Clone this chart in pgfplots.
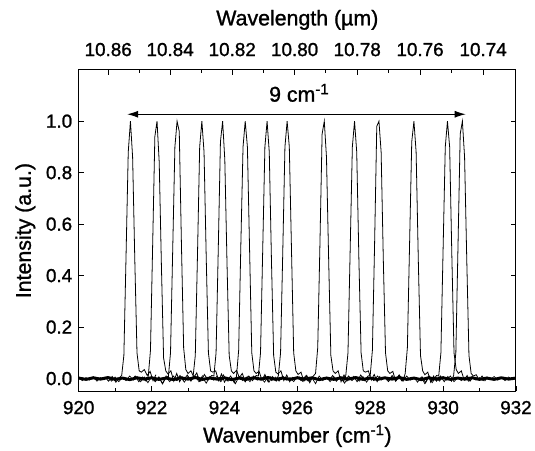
\documentclass[border=0pt]{standalone}
\usepackage{pgfplots}
\pgfplotsset{compat=1.18}
\usepackage{fontspec}
\setmainfont{Liberation Sans}[FakeBold=1.2]
\usetikzlibrary{arrows.meta}
\newcommand{\tickfont}{\fontsize{19}{20}\selectfont}
\newcommand{\labfont}{\fontsize{21.5}{23}\selectfont}
\begin{document}
\begin{tikzpicture}
\pgfplotsset{
  common/.style={
    scale only axis, width=439bp, height=323bp,
    xmin=920, xmax=932, ymin=-0.05, ymax=1.2,
    axis line style={line width=1pt},
    every tick/.style={black, line width=0.9pt},
    major tick length=5bp, minor tick length=3bp,
    tick align=inside,
    tick label style={font=\tickfont},
    label style={font=\labfont},
    /pgf/number format/assume math mode=true,
  },
  pk/.style={black, solid, no marks, line width=0.8pt},
}
\begin{axis}[common,
  name=main,
  xtick={920,922,...,932},
  minor xtick={921,923,...,931},
  xtick pos=lower,
  ytick={0,0.2,...,1.0},
  ytick pos=both,
  yticklabel style={xshift=-3bp, /pgf/number format/.cd, fixed, fixed zerofill, precision=1},
  xticklabel style={yshift=-6bp, /pgf/number format/.cd, fixed, precision=0, 1000 sep={}},
  xlabel={Wavenumber (cm\textsuperscript{-1})},
  ylabel={Intensity (a.u.)},
  xlabel style={at={(axis description cs:0.5,-0.138)}, anchor=center},
  ylabel style={at={(axis description cs:-0.122,0.5)}, anchor=center},
  clip=true,
]
% baseline (thick band)
\addplot[pk, line width=3pt] coordinates {
(920.0,0.002)(920.2,-0.003)(920.4,0.003)(920.6,-0.002)(920.8,0.004)(921.0,-0.003)(921.2,0.002)(921.4,-0.004)(921.6,0.003)(921.8,-0.002)
(922.0,0.003)(922.2,-0.003)(922.4,0.002)(922.6,-0.004)(922.8,0.003)(923.0,-0.002)(923.2,0.004)(923.4,-0.003)(923.6,0.002)(923.8,-0.002)
(924.0,0.003)(924.2,-0.004)(924.4,0.002)(924.6,-0.003)(924.8,0.003)(925.0,-0.002)(925.2,0.004)(925.4,-0.003)(925.6,0.002)(925.8,-0.003)
(926.0,0.003)(926.2,-0.002)(926.4,0.003)(926.6,-0.004)(926.8,0.002)(927.0,-0.003)(927.2,0.003)(927.4,-0.002)(927.6,0.004)(927.8,-0.003)
(928.0,0.002)(928.2,-0.003)(928.4,0.003)(928.6,-0.002)(928.8,0.004)(929.0,-0.003)(929.2,0.002)(929.4,-0.004)(929.6,0.003)(929.8,-0.002)
(930.0,0.003)(930.2,-0.003)(930.4,0.002)(930.6,-0.002)(930.8,0.003)(931.0,-0.003)(931.2,0.002)(931.4,-0.003)(931.6,0.003)(931.8,-0.002)(932.0,0.002)
};
% baseline noise
\addplot[pk, line width=0.7pt] coordinates {
(920.0,0.006)(920.1,-0.008)(920.2,0.004)(920.3,-0.006)(920.4,0.008)(920.5,-0.01)(920.6,0.004)(920.7,-0.004)(920.8,0.008)(920.9,-0.01)
(921.0,0.006)(921.1,-0.012)(921.2,0.004)(921.3,-0.008)(921.4,0.01)(921.5,-0.006)(921.6,0.008)(921.7,-0.012)(921.8,0.006)(921.9,-0.016)
(922.0,0.008)(922.1,-0.01)(922.2,0.006)(922.3,-0.02)(922.4,0.004)(922.5,-0.012)(922.6,0.01)(922.7,-0.008)(922.8,0.006)(922.9,-0.014)
(923.0,0.008)(923.1,-0.006)(923.2,0.01)(923.3,-0.012)(923.4,0.004)(923.5,-0.018)(923.6,0.008)(923.7,-0.006)(923.8,0.01)(923.9,-0.012)
(924.0,0.006)(924.1,-0.01)(924.2,0.004)(924.3,-0.02)(924.4,0.008)(924.5,-0.008)(924.6,0.006)(924.7,-0.012)(924.8,0.01)(924.9,-0.006)
(925.0,0.004)(925.1,-0.014)(925.2,0.008)(925.3,-0.008)(925.4,0.006)(925.5,-0.01)(925.6,0.01)(925.7,-0.006)(925.8,0.004)(925.9,-0.012)
(926.0,0.008)(926.1,-0.008)(926.2,0.006)(926.3,-0.01)(926.4,0.004)(926.5,-0.02)(926.6,0.01)(926.7,-0.008)(926.8,0.006)(926.9,-0.012)
(927.0,0.008)(927.1,-0.006)(927.2,0.004)(927.3,-0.018)(927.4,0.01)(927.5,-0.008)(927.6,0.006)(927.7,-0.01)(927.8,0.008)(927.9,-0.014)
(928.0,0.006)(928.1,-0.008)(928.2,0.01)(928.3,-0.006)(928.4,0.004)(928.5,-0.012)(928.6,0.008)(928.7,-0.01)(928.8,0.006)(928.9,-0.008)
(929.0,0.01)(929.1,-0.006)(929.2,0.004)(929.3,-0.014)(929.4,0.006)(929.5,-0.02)(929.6,0.008)(929.7,-0.016)(929.8,0.006)(929.9,-0.01)
(930.0,0.008)(930.1,-0.006)(930.2,0.01)(930.3,-0.012)(930.4,0.004)(930.5,-0.008)(930.6,0.006)(930.7,-0.01)(930.8,0.008)(930.9,-0.006)
(931.0,0.004)(931.1,-0.008)(931.2,0.006)(931.3,-0.004)(931.4,0.008)(931.5,-0.006)(931.6,0.004)(931.7,-0.008)(931.8,0.006)(931.9,-0.004)(932.0,0.004)
};
% peak 1
\addplot[pk] coordinates {(920.72,0.006)(920.82,-0.01)(920.92,0.008)(921.02,-0.014)(921.12,0.004)(921.18,0.012)(921.24,0.09)(921.30,0.48)(921.36,0.88)(921.42,1.0)(921.48,0.86)(921.54,0.46)(921.60,0.10)(921.66,0.03)(921.72,0.025)(921.80,0.035)(921.88,0.012)(921.96,0.028)(922.04,-0.008)(922.12,0.015)};
% peak 2
\addplot[pk] coordinates {(921.45,-0.006)(921.55,0.01)(921.65,-0.012)(921.75,0.006)(921.85,-0.01)(921.91,0.01)(921.97,0.11)(922.03,0.52)(922.09,0.94)(922.15,1.0)(922.21,0.84)(922.27,0.44)(922.33,0.08)(922.39,0.03)(922.45,0.018)(922.53,0.03)(922.61,-0.01)(922.69,0.02)(922.77,-0.012)(922.85,0.008)};
% peak 3
\addplot[pk] coordinates {(922.00,0.008)(922.10,-0.012)(922.20,0.006)(922.30,-0.02)(922.40,0.01)(922.46,0.006)(922.52,0.10)(922.58,0.50)(922.64,0.90)(922.70,1.0)(922.76,0.96)(922.82,0.52)(922.88,0.12)(922.94,0.035)(923.00,0.02)(923.08,0.03)(923.16,0.006)(923.24,0.022)(923.32,-0.01)(923.40,0.012)};
% peak 4
\addplot[pk] coordinates {(922.68,-0.008)(922.78,0.012)(922.88,-0.006)(922.98,0.014)(923.08,-0.01)(923.14,0.008)(923.20,0.09)(923.26,0.48)(923.32,0.90)(923.38,1.0)(923.44,0.88)(923.50,0.47)(923.56,0.10)(923.62,0.03)(923.68,0.025)(923.76,0.03)(923.84,-0.008)(923.92,0.018)(924.00,-0.014)(924.08,0.006)};
% peak 5
\addplot[pk] coordinates {(923.25,0.01)(923.35,-0.01)(923.45,0.016)(923.55,-0.006)(923.65,0.012)(923.71,0.01)(923.77,0.10)(923.83,0.50)(923.89,0.92)(923.95,1.0)(924.01,0.85)(924.07,0.45)(924.13,0.09)(924.19,0.03)(924.25,0.02)(924.33,0.032)(924.41,0.004)(924.49,0.02)(924.57,-0.012)(924.65,0.01)};
% peak 6
\addplot[pk] coordinates {(923.87,-0.01)(923.97,0.014)(924.07,-0.008)(924.17,0.01)(924.27,-0.016)(924.33,0.008)(924.39,0.11)(924.45,0.52)(924.51,0.90)(924.57,1.0)(924.63,0.90)(924.69,0.50)(924.75,0.10)(924.81,0.03)(924.87,0.02)(924.95,0.028)(925.03,-0.006)(925.11,0.016)(925.19,-0.01)(925.27,0.008)};
% peak 7
\addplot[pk] coordinates {(924.47,0.008)(924.57,-0.012)(924.67,0.01)(924.77,-0.008)(924.87,0.012)(924.93,0.01)(924.99,0.10)(925.05,0.50)(925.11,0.90)(925.17,1.0)(925.23,0.88)(925.29,0.46)(925.35,0.09)(925.41,0.025)(925.47,0.018)(925.55,0.03)(925.63,-0.008)(925.71,0.014)(925.79,-0.012)(925.87,0.006)};
% peak 8
\addplot[pk] coordinates {(925.02,-0.006)(925.12,0.01)(925.22,-0.014)(925.32,0.008)(925.42,-0.01)(925.48,0.012)(925.54,0.10)(925.60,0.49)(925.66,0.90)(925.72,1.0)(925.78,0.90)(925.84,0.50)(925.90,0.10)(925.96,0.03)(926.02,0.016)(926.10,0.025)(926.18,-0.01)(926.26,0.012)(926.34,-0.016)(926.42,0.006)};
% peak 9
\addplot[pk] coordinates {(926.04,0.008)(926.14,-0.01)(926.24,0.012)(926.34,-0.008)(926.44,0.01)(926.50,0.02)(926.56,0.12)(926.62,0.52)(926.68,0.95)(926.74,1.0)(926.80,0.86)(926.86,0.46)(926.92,0.09)(926.98,0.03)(927.04,0.02)(927.12,0.03)(927.20,-0.012)(927.28,0.014)(927.36,-0.01)(927.44,0.008)};
% peak 10
\addplot[pk] coordinates {(926.87,-0.008)(926.97,0.012)(927.07,-0.01)(927.17,0.008)(927.27,-0.012)(927.33,0.012)(927.39,0.10)(927.45,0.50)(927.51,0.90)(927.57,1.0)(927.63,0.88)(927.69,0.46)(927.75,0.10)(927.81,0.03)(927.87,0.025)(927.95,0.03)(928.03,-0.006)(928.11,0.016)(928.19,-0.012)(928.27,0.01)};
% peak 11
\addplot[pk] coordinates {(927.54,0.01)(927.64,-0.012)(927.74,0.014)(927.84,-0.008)(927.94,0.01)(928.00,0.012)(928.06,0.11)(928.12,0.52)(928.18,0.98)(928.24,1.0)(928.30,0.88)(928.36,0.46)(928.42,0.10)(928.48,0.03)(928.54,0.02)(928.62,0.028)(928.70,-0.01)(928.78,0.012)(928.86,-0.008)(928.94,0.008)};
% peak 12
\addplot[pk] coordinates {(928.50,-0.01)(928.60,0.012)(928.70,-0.006)(928.80,0.014)(928.90,-0.01)(928.96,0.02)(929.02,0.12)(929.08,0.52)(929.14,0.92)(929.20,1.0)(929.26,0.88)(929.32,0.46)(929.38,0.09)(929.44,0.03)(929.50,0.015)(929.58,0.025)(929.66,-0.014)(929.74,0.01)(929.82,-0.01)(929.90,0.006)};
% peak 13
\addplot[pk] coordinates {(929.42,0.008)(929.52,-0.016)(929.62,0.01)(929.72,-0.008)(929.82,0.012)(929.88,0.01)(929.94,0.10)(930.00,0.50)(930.06,0.90)(930.12,1.0)(930.18,0.90)(930.24,0.48)(930.30,0.10)(930.36,0.035)(930.42,0.02)(930.50,0.03)(930.58,-0.006)(930.66,0.012)(930.74,-0.01)(930.82,0.006)};
% peak 14
\addplot[pk] coordinates {(929.83,-0.006)(929.93,0.01)(930.03,-0.012)(930.13,0.008)(930.23,-0.01)(930.29,0.012)(930.35,0.10)(930.41,0.52)(930.47,0.95)(930.53,1.0)(930.59,0.86)(930.65,0.46)(930.71,0.09)(930.77,0.02)(930.83,0.01)(930.91,0.015)(930.99,-0.006)(931.07,0.01)(931.15,-0.008)(931.23,0.006)};
% annotation
\draw[line width=1pt, {Latex[length=11bp,width=7bp]}-{Latex[length=11bp,width=7bp]}] (axis cs:921.33,1.027) -- (axis cs:930.62,1.027);
\node[font=\labfont, anchor=center] at (axis cs:926.05,1.11) {9 cm\textsuperscript{-1}};
\end{axis}
\begin{axis}[common,
  axis x line*=top,
  hide y axis,
  xtick={920.810,922.509,924.214,925.926,927.644,929.368,931.099},
  xticklabels={10.86,10.84,10.82,10.80,10.78,10.76,10.74},
  minor xtick={921.659,923.361,925.069,926.784,928.505,930.233},
  xticklabel style={yshift=10bp},
  xlabel={Wavelength (\textmu m)},
  xlabel style={at={(axis description cs:0.5,1.155)}, anchor=center},
]
\addplot[draw=none] coordinates {(920,0)(932,0)};
\end{axis}
\path (main.south west) ++(-79bp,-54bp) coordinate (bbA);
\path (main.north east) ++(17bp,70bp) coordinate (bbB);
\useasboundingbox (bbA) rectangle (bbB);
\end{tikzpicture}
\end{document}
